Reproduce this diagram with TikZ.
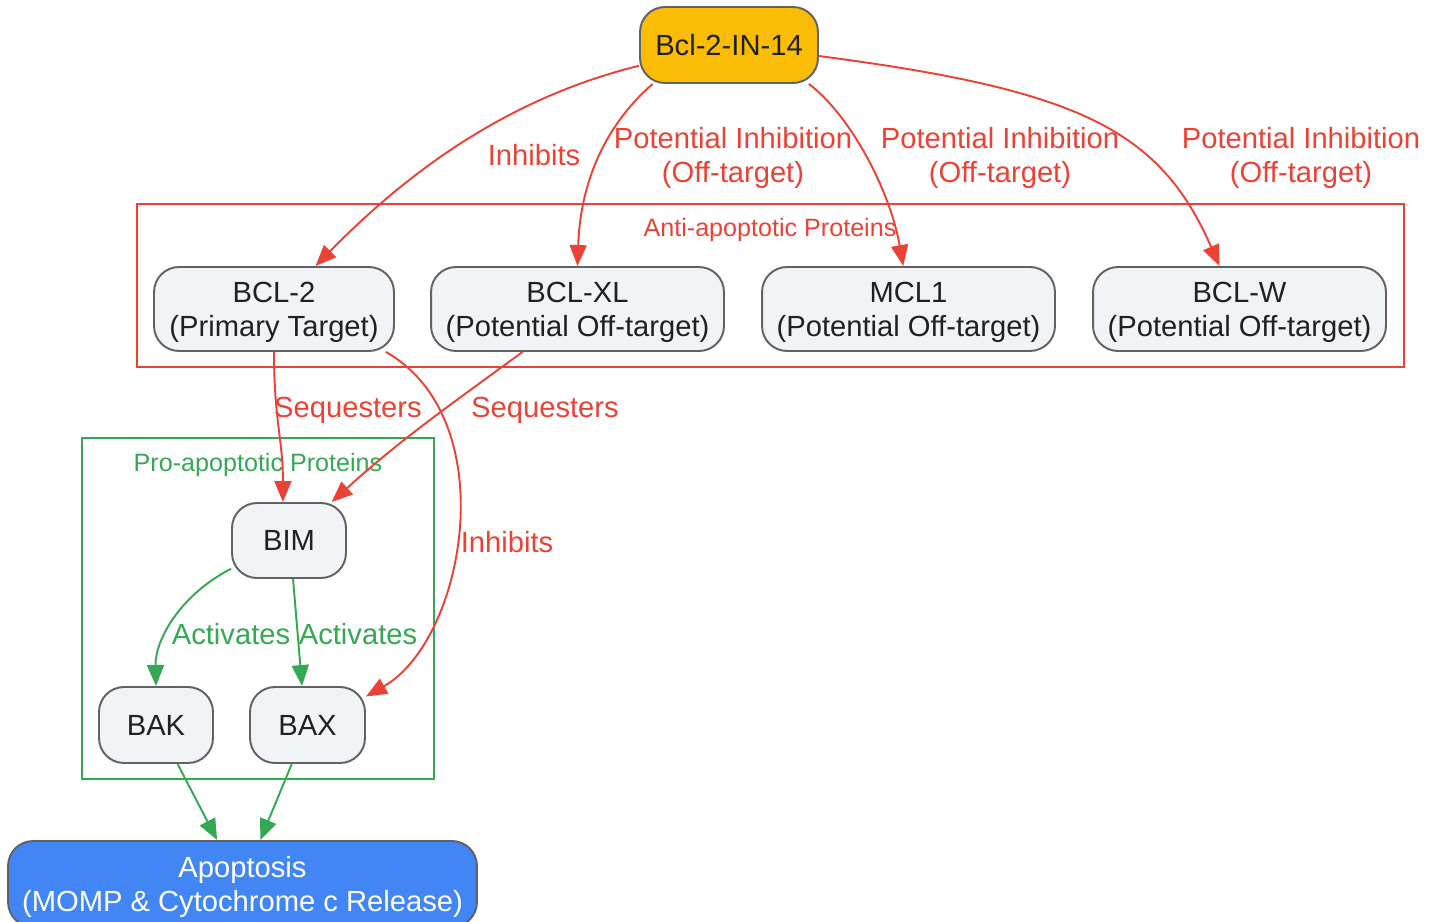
\documentclass[tikz,border=0pt]{standalone}
\usepackage{fontspec}
\setmainfont{Liberation Sans}
\usetikzlibrary{arrows.meta}
\definecolor{gred}{HTML}{EA4335}
\definecolor{ggreen}{HTML}{34A853}
\definecolor{gyellow}{HTML}{FBBC05}
\definecolor{gblue}{HTML}{4285F4}
\definecolor{gnode}{HTML}{F1F3F4}
\definecolor{gborder}{HTML}{5F6368}
\definecolor{gtext}{HTML}{202124}
\newcommand{\labfont}{\fontsize{16.6}{19.2}\selectfont}
\begin{document}
\begin{tikzpicture}[x=0.02cm,y=-0.02cm,
    box/.style={draw=gborder, fill=gnode, line width=1.1pt, rounded corners=0.5cm,
      text=gtext, align=center, inner sep=0pt, minimum height=1.68cm, font=\labfont},
    twoline/.style={text depth=0pt},
    inh/.style={draw=gred, line width=1.1pt, -{Triangle[length=0.42cm,width=0.34cm]}},
    act/.style={draw=ggreen, line width=1.1pt, -{Triangle[length=0.42cm,width=0.34cm]}},
    redlab/.style={text=gred, align=center, font=\labfont},
    greenlab/.style={text=ggreen, align=center, font=\labfont},
    cluster/.style={line width=1.1pt},
  ]
  \useasboundingbox (0,0) rectangle (1439,922);
%
  % clusters
  \draw[cluster, draw=gred] (137,204) rectangle (1404,367);
  \node[text=gred, font=\fontsize{14.3}{16}\selectfont] (antilab) at (770,230) {Anti-apoptotic Proteins};
  \draw[cluster, draw=ggreen] (82,438) rectangle (434,779);
  \node[text=ggreen, font=\fontsize{14.3}{16}\selectfont] (prolab) at (258,465) {Pro-apoptotic Proteins};
%
  % nodes
  \node[box, fill=gyellow, minimum width=3.56cm, minimum height=1.52cm] (drug) at (729,45) {Bcl-2-IN-14};
  \node[box, twoline, minimum width=4.8cm] (bcl2) at (274,309) {BCL-2\\(Primary Target)};
  \node[box, twoline, minimum width=5.86cm] (bclxl) at (577.5,309) {BCL-XL\\(Potential Off-target)};
  \node[box, twoline, minimum width=5.86cm] (mcl1) at (908.5,309) {MCL1\\(Potential Off-target)};
  \node[box, twoline, minimum width=5.86cm] (bclw) at (1239.5,309) {BCL-W\\(Potential Off-target)};
  \node[box, minimum width=2.28cm, minimum height=1.5cm] (bim) at (289,540.5) {BIM};
  \node[box, minimum width=2.28cm, minimum height=1.52cm] (bak) at (156,725) {BAK};
  \node[box, minimum width=2.3cm, minimum height=1.52cm] (bax) at (307.5,725) {BAX};
  \node[box, twoline, fill=gblue, text=white, minimum width=9.38cm, minimum height=1.72cm] (apop) at (242.5,884)
    {Apoptosis\\(MOMP \& Cytochrome c Release)};
%
  % inhibitor edges
  \draw[inh] (drug.193) .. controls (500,100) and (400,180) .. (bcl2.46);
  \draw[inh] (drug.207) .. controls (600,130) and (580,190) .. (bclxl.north);
  \draw[inh] (drug.-26) .. controls (850,115) and (890,190) .. (mcl1.97);
  \draw[inh] (drug.-7) .. controls (1080,90) and (1160,130) .. (bclw.115);
  \draw[inh] (bcl2.south) .. controls (274,420) and (283,440) .. (bim.99);
  \draw[inh] (bclxl.218) .. controls (450,405) and (400,440) .. (bim.42);
  \draw[inh] (bcl2.-21) .. controls (505,420) and (465,640) .. (bax.26);
  % activation edges
  \draw[act] (bim.206) .. controls (180,595) and (155,640) .. (bak.north);
  \draw[act] (bim.-84) -- (bax.98);
  \draw[act] (bak.-61) -- (apop.120);
  \draw[act] (bax.248) -- (apop.68);
%
  % edge labels
  \node[redlab] (l1) at (534,155) {Inhibits};
  \node[redlab] (l2) at (733,158) {Potential Inhibition\\(Off-target)};
  \node[redlab] (l3) at (1000,158) {Potential Inhibition\\(Off-target)};
  \node[redlab] (l4) at (1301,158) {Potential Inhibition\\(Off-target)};
  \node[redlab] (l5) at (348,410) {Sequesters};
  \node[redlab] (l6) at (545,410) {Sequesters};
  \node[redlab] (l7) at (507,542) {Inhibits};
  \node[greenlab] (l8) at (231,634) {Activates};
  \node[greenlab] (l9) at (358,634) {Activates};
\end{tikzpicture}
\end{document}
